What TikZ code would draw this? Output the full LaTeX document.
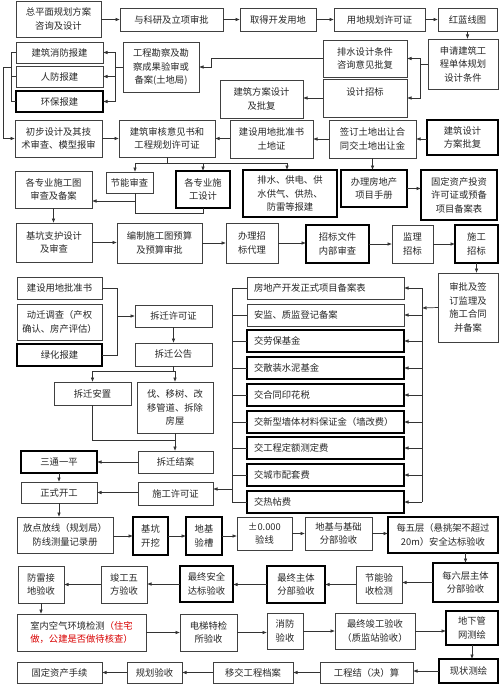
\documentclass[tikz,border=0pt]{standalone}
\usepackage{fontspec}
\setmainfont{Noto Sans CJK SC}
\usetikzlibrary{arrows.meta}
\tikzset{
  box/.style={draw=black!75,line width=0.7pt,inner sep=1pt,outer sep=0pt,align=center,text=black!85,font=\fontsize{9.3}{13.5}\selectfont},
  bold/.style={draw=black,line width=1.3pt},
  lbox/.style={align=left,text width=143pt,inner xsep=6pt},
  arr/.style={draw=black!80,line width=0.7pt,-{Latex[length=4.5pt,width=3.6pt]}},
  ln/.style={draw=black!80,line width=0.7pt},
}
\newcommand\bx[7][]{\node[box,minimum width={(#5-#3)*1pt},minimum height={(#6-#4)*1pt},#1] (#2) at ({(#3+#5)/2},{(#4+#6)/2}) {#7};}
\begin{document}
\begin{tikzpicture}[x=1pt,y=-1pt]
\fill[white] (0,0) rectangle (500,685);
\useasboundingbox (0,0) rectangle (500,685);
% row 1
\bx{n1}{16}{1}{101}{37}{总平面规划方案\\咨询及设计}
\bx{n2}{120}{8}{223}{31}{与科研及立项审批}
\bx{n3}{240}{8}{316}{31}{取得开发用地}
\bx{n4}{334}{8}{425}{31}{用地规划许可证}
\bx{n5}{438}{8}{497}{31}{红蓝线图}
% row 2
\bx{xf}{16}{42}{103}{63}{建筑消防报建}
\bx{rf}{16}{66}{103}{87}{人防报建}
\bx[bold]{hb}{16}{91}{103}{112}{环保报建}
\bx{kc}{123}{42}{199}{92}{工程勘察及勘\\察成果验审或\\备案(土地局)}
\bx{ps}{323}{40}{407}{77}{排水设计条件\\咨询意见批复}
\bx{fa}{220}{80}{303}{118}{建筑方案设计\\及批复}
\bx{sj}{323}{79}{407}{117}{设计招标\\\mbox{}}
\bx{sq}{428}{39}{498}{89}{申请建筑工\\程单体规划\\设计条件}
% row 3
\bx{cb}{15}{120}{102}{157}{初步设计及其技\\术审查、模型报审}
\bx{jz}{119}{120}{215}{157}{建筑审核意见书和\\工程规划许可证}
\bx{yd}{230}{120}{313}{158}{建设用地批准书\\土地证}
\bx{qd}{329}{120}{416}{158}{签订土地出让合\\同交土地出让金}
\bx[bold]{sp}{427}{120}{498}{155}{建筑设计\\方案批复}
% row 4
\bx{tg}{15}{171}{92}{208}{各专业施工图\\审查及备案}
\bx{jn}{106}{172}{153}{193}{节能审查}
\bx[bold]{gz}{176}{171}{230}{208}{各专业施\\工设计}
\bx[bold]{pg}{243}{170}{337}{217}{排水、供电、供\\水供气、供热、\\防雷等报建}
\bx[bold]{bd}{341}{170}{407}{207}{办理房地产\\项目手册}
\bx[bold]{gd}{421}{170}{497}{220}{固定资产投资\\许可证或预备\\项目备案表}
% row 5
\bx{jk}{16}{223}{92}{262}{基坑支护设计\\及审查}
\bx{bz}{117}{223}{202}{263}{编制施工图预算\\及预算审批}
\bx{bl}{226}{223}{278}{263}{办理招\\标代理}
\bx[bold]{zb}{306}{225}{369}{263}{招标文件\\内部审查}
\bx{jl}{392}{225}{433}{263}{监理\\招标}
\bx[bold]{sg}{455}{225}{498}{263}{施工\\招标}
\bx{sb}{438}{273}{498}{342}{审批及签\\订监理及\\施工合同\\并备案}
% list
\bx[lbox]{L1}{247}{277}{404}{299}{房地产开发正式项目备案表}
\bx[lbox]{L2}{247}{304}{404}{326}{安监、质监登记备案}
\bx[lbox,bold]{L3}{247}{330}{404}{352}{交劳保基金}
\bx[lbox,bold]{L4}{247}{357}{404}{379}{交散装水泥基金}
\bx[lbox,bold]{L5}{247}{384}{404}{406}{交合同印花税}
\bx[lbox,bold]{L6}{247}{411}{404}{433}{交新型墙体材料保证金（墙改费）}
\bx[lbox,bold]{L7}{247}{437}{404}{459}{交工程定额测定费}
\bx[lbox,bold]{L8}{247}{464}{404}{486}{交城市配套费}
\bx[lbox,bold]{L9}{247}{491}{404}{513}{交热帖费}
% chai qian
\bx{c1}{17}{277}{102}{299}{建设用地批准书}
\bx{c2}{17}{304}{102}{340}{动迁调查（产权\\确认、房产评估）}
\bx[bold]{c3}{17}{344}{102}{366}{绿化报建}
\bx{cx}{135}{305}{212}{327}{拆迁许可证}
\bx{gg}{135}{343}{212}{366}{拆迁公告}
\bx{az}{54}{382}{131}{405}{拆迁安置}
\bx{fy}{137}{382}{213}{433}{伐、移树、改\\移管道、拆除\\房屋}
\bx{ja}{138}{451}{213}{473}{拆迁结案}
\bx[bold]{st}{21}{451}{97}{473}{三通一平}
\bx{kg}{21}{482}{97}{503}{正式开工}
\bx{xk}{138}{482}{213}{505}{施工许可证}
% fang dian
\bx{ff}{17}{517}{113}{553}{放点放线（规划局）\\防线测量记录册}
\bx[bold]{kw}{133}{517}{168}{555}{基坑\\开挖}
\bx[bold]{dy}{186}{517}{222}{555}{地基\\验槽}
\bx{zl}{237}{517}{292}{550}{±0.000\\验线}
\bx{dj}{305}{517}{372}{550}{地基与基础\\分部验收}
\bx[bold]{mw}{388}{517}{498}{553}{每五层（悬挑架不超过\\20m）安全达标验收}
% fang lei
\bx{fl}{18}{566}{64}{603}{防雷接\\地验收}
\bx{jg}{101}{566}{147}{603}{竣工五\\方验收}
\bx[bold]{za}{180}{566}{233}{602}{最终安全\\达标验收}
\bx[bold]{zt}{267}{566}{325}{603}{最终主体\\分部验收}
\bx{jy}{356}{566}{402}{603}{节能验\\收检测}
\bx[bold]{ml}{433}{563}{498}{602}{每六层主体\\分部验收}
% shi nei
\bx[align=left]{sn}{17}{614}{146}{651}{室内空气环境检测\textcolor{red!85!black}{（住宅}\\\textcolor{red!85!black}{做，公建是否做待核查）}}
\bx{dt}{180}{614}{237}{651}{电梯特检\\所验收}
\bx{xf2}{267}{613}{303}{649}{消防\\验收}
\bx{zj}{335}{613}{415}{649}{最终竣工验收\\（质监站验收）}
\bx[bold]{dx}{446}{611}{498}{645}{地下管\\网测绘}
% bottom
\bx[bold]{xz}{439}{659}{498}{683}{现状测绘}
\bx{gj}{320}{662}{413}{683}{工程结（决）算}
\bx{yj}{213}{662}{293}{683}{移交工程档案}
\bx{gh}{127}{662}{182}{683}{规划验收}
\bx{gz2}{17}{662}{102}{683}{固定资产手续}
% ---------- connectors
\draw[arr] (n1.east |- n2.west) -- (n2.west);
\draw[arr] (n2) -- (n3);
\draw[arr] (n3) -- (n4);
\draw[arr] (n4) -- (n5);
\draw[arr] (n5.south) -- (n5.south |- sq.north);
\coordinate (j1) at (420,64);
\draw[ln] (sq.west) -- (j1);
\draw[arr] (j1) |- (ps.east);
\draw[arr] (j1) |- (sj.east);
\draw[arr] (sj.west) -- (sj.west -| fa.east);
\coordinate (j2) at (211,58.5);
\draw[arr] (ps.west) -- (j2) |- (kc.east);
\coordinate (j3) at (115,67);
\draw[ln] (kc.west) -- (j3);
\draw[arr] (j3) |- (xf.east);
\draw[arr] (j3) |- (rf.east);
\draw[arr] (j3) |- (hb.east);
\coordinate (j4) at (11,67);
\coordinate (j5) at (3,67);
\draw[ln] (xf.west) -- (xf.west -| j4) -- (hb.west -| j4) -- (hb.west);
\draw[ln] (rf.west) -- (rf.west -| j4);
\draw[arr] (j4) -- (j5) |- (cb.west);
\draw[arr] (cb) -- (jz);
\draw[arr] (yd.west |- jz.east) -- (jz.east);
\draw[arr] (qd) -- (yd);
\draw[arr] (sp.west |- qd.east) -- (qd.east);
\coordinate (j6) at (167,163);
\coordinate (j6a) at (135,163);
\coordinate (j6b) at (287,163);
\draw[ln] (jz.south) -- (j6);
\draw[ln] (j6a) -- (j6b);
\draw[arr] (j6a) -- (j6a |- jn.north);
\draw[arr] (gz.north |- j6a) -- (gz.north);
\draw[arr] (j6b) -- (j6b |- pg.north);
\coordinate (j7) at (135,213);
\coordinate (j7b) at (135,201);
\draw[ln] (j7 |- jn.south) -- (j7) -| (gz.south);
\draw[arr] (j7b) -- (j7b -| tg.east);
\draw[arr] (tg.south) -- (tg.south |- jk.north);
\draw[arr] (qd.south) -- (qd.south |- bd.north);
\draw[arr] (bd.east) -- (bd.east -| gd.west);
\draw[arr] (jk.east) -- (jk.east -| bz.west);
\draw[arr] (bz.east) -- (bz.east -| bl.west);
\draw[arr] (bl.east) -- (bl.east -| zb.west);
\draw[arr] (zb.east) -- (zb.east -| jl.west);
\draw[arr] (jl.east) -- (jl.east -| sg.west);
\draw[arr] (sg.south) -- (sg.south |- sb.north);
\coordinate (j8) at (422,308);
\draw[arr] (sb.west) -- (j8);
\draw[ln] (L1.east -| j8) -- (L9.east -| j8);
\foreach \i in {1,...,9} {\draw[arr] (L\i.east -| j8) -- (L\i.east);}
\coordinate (j9) at (232,489);
\draw[ln] (L1.west) -- (L1.west -| j9) -- (L9.west -| j9) -- (L9.west);
\foreach \i in {2,...,8} {\draw[ln] (L\i.west) -- (L\i.west -| j9);}
\draw[arr] (j9) -- (j9 -| xk.east);
\coordinate (j10) at (117,316);
\draw[ln] (c1.east) -- (c1.east -| j10) -- (c3.east -| j10) -- (c3.east);
\draw[arr] (j10) -- (cx.west);
\draw[arr] (cx) -- (gg);
\coordinate (j11) at (173.5,371);
\draw[ln] (gg.south) -- (j11);
\draw[ln] (az.north |- j11) -- (fy.north |- j11);
\draw[arr] (az.north |- j11) -- (az.north);
\draw[arr] (fy.north |- j11) -- (fy.north);
\coordinate (j12) at (92.5,440);
\draw[ln] (az.south) -- (j12) -- (j12 -| fy.south);
\draw[arr] (fy.south) -- (fy.south |- ja.north);
\draw[arr] (ja.west) -- (ja.west -| st.east);
\draw[arr] (st.south) -- (st.south |- kg.north);
\draw[arr] (xk.west |- kg.east) -- (kg.east);
\draw[arr] (kg.south) -- (kg.south |- ff.north);
\draw[arr] (ff.east |- kw.west) -- (kw.west);
\draw[arr] (kw) -- (dy);
\draw[arr] (dy.east) -- (dy.east -| zl.west);
\draw[arr] (zl.east) -- (zl.east -| dj.west);
\draw[arr] (dj.east) -- (dj.east -| mw.west);
\draw[arr] (ml.north |- mw.south) -- (ml.north);
\draw[arr] (ml.west) -- (ml.west -| jy.east);
\draw[arr] (jy) -- (zt);
\draw[arr] (zt.west) -- (zt.west -| za.east);
\draw[arr] (za.west) -- (za.west -| jg.east);
\draw[arr] (jg) -- (fl);
\draw[arr] (fl.south) -- (fl.south |- sn.north);
\draw[arr] (sn.east) -- (sn.east -| dt.west);
\draw[arr] (dt.east) -- (dt.east -| xf2.west);
\draw[arr] (xf2.east) -- (xf2.east -| zj.west);
\draw[arr] (zj.east) -- (zj.east -| dx.west);
\draw[arr] (dx.south) -- (dx.south |- xz.north);
\draw[arr] (xz.west) -- (xz.west -| gj.east);
\draw[arr] (gj) -- (yj);
\draw[arr] (yj) -- (gh);
\draw[arr] (gh) -- (gz2);
\end{tikzpicture}
\end{document}
